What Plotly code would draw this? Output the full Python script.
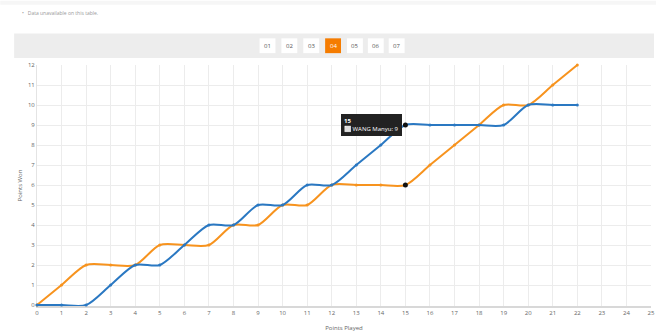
import plotly.graph_objects as go

points_played = list(range(0, 23))
blue_won = [0, 0, 0, 1, 2, 2, 3, 4, 4, 5, 5, 6, 6, 7, 8, 9, 9, 9, 9, 9, 10, 10, 10]
orange_won = [0, 1, 2, 2, 2, 3, 3, 3, 4, 4, 5, 5, 6, 6, 6, 6, 7, 8, 9, 10, 10, 11, 12]
tabs = ["01", "02", "03", "04", "05", "06", "07"]
active_tab = "04"
hover_x = 15
hover_name = "WANG Manyu"

BLUE = "#2a78c2"
ORANGE = "#f7931e"

fig = go.Figure()
fig.add_trace(go.Scatter(x=points_played, y=orange_won, mode="lines+markers",
                         line=dict(color=ORANGE, width=2, shape="spline", smoothing=0.8),
                         marker=dict(size=3, color=ORANGE), name="orange", cliponaxis=False))
fig.add_trace(go.Scatter(x=points_played, y=blue_won, mode="lines+markers",
                         line=dict(color=BLUE, width=2, shape="spline", smoothing=0.8),
                         marker=dict(size=3, color=BLUE), name=hover_name, cliponaxis=False))
# highlighted hover points
fig.add_trace(go.Scatter(x=[hover_x, hover_x],
                         y=[blue_won[hover_x], orange_won[hover_x]],
                         mode="markers", marker=dict(size=5, color="#111"),
                         showlegend=False))

shapes = []
def px_x(p):
    return (p - 37) / 618.0

def px_y(p):
    return (309 - p) / 244.0

# top faint shadow
shapes.append(dict(type="rect", xref="paper", yref="paper", x0=px_x(0), x1=px_x(660),
                   y0=px_y(4), y1=px_y(0), fillcolor="#f6f6f6", line=dict(width=0), layer="below"))
# gray band
shapes.append(dict(type="rect", xref="paper", yref="paper", x0=px_x(14), x1=px_x(658),
                   y0=px_y(58), y1=px_y(33), fillcolor="#ededed", line=dict(width=0), layer="below"))

annotations = []
centers = [269, 291, 313, 335, 357, 378, 399]
for lab, cx in zip(tabs, centers):
    active = lab == active_tab
    shapes.append(dict(type="rect", xref="paper", yref="paper",
                       x0=px_x(cx - 8), x1=px_x(cx + 8), y0=px_y(53), y1=px_y(38),
                       fillcolor="#f57c00" if active else "#ffffff",
                       line=dict(width=0), layer="below"))
    annotations.append(dict(xref="paper", yref="paper", x=px_x(cx), y=px_y(45.5),
                            text=lab, showarrow=False,
                            font=dict(size=6, color="#ffffff" if active else "#555"),
                            xanchor="center", yanchor="middle"))

annotations.append(dict(xref="paper", yref="paper", x=px_x(20), y=px_y(12),
                        text="•   Data unavailable on this table.", showarrow=False,
                        font=dict(size=5, color="#999"), xanchor="left", yanchor="middle"))

# tooltip
annotations.append(dict(xref="x", yref="y", x=hover_x, y=blue_won[hover_x],
                        text="<b>15</b><br>⬜ " + hover_name + ": 9", showarrow=False,
                        xanchor="right", yanchor="middle", align="left", xshift=-3,
                        bgcolor="#222", bordercolor="#222", borderpad=2,
                        font=dict(size=6, color="#fff")))

fig.update_layout(
    width=660, height=336,
    margin=dict(l=37, r=5, t=65, b=27),
    paper_bgcolor="white", plot_bgcolor="white",
    showlegend=False,
    shapes=shapes, annotations=annotations,
    font=dict(family="Open Sans", size=6, color="#666"),
    xaxis=dict(range=[0, 25], dtick=1, tick0=0, showgrid=True, gridcolor="#ececec",
               gridwidth=1, zeroline=False, showline=True, linecolor="#d8d8d8", linewidth=2,
               ticks="", tickfont=dict(size=6, color="#666"), layer="below traces",
               title=dict(text="Points Played", font=dict(size=6, color="#666"), standoff=10)),
    yaxis=dict(range=[-0.05, 12], dtick=1, tick0=0, showgrid=True, gridcolor="#ececec",
               gridwidth=1, zeroline=False, showline=True, linecolor="#e4e4e4", linewidth=1,
               ticks="", tickfont=dict(size=6, color="#666"), layer="below traces",
               title=dict(text="Points Won", font=dict(size=6, color="#666"), standoff=4)),
)

fig.write_html("out.html")
